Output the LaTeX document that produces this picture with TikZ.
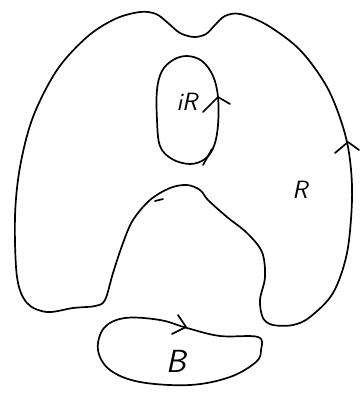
\documentclass[tikz,border=0pt]{standalone}
\begin{document}
\begin{tikzpicture}[x=1pt,y=-1pt,
  pen/.style={line width=1.7pt,line cap=round,line join=round},
  lbl/.style={font=\fontsize{25}{25}\selectfont\sffamily\itshape}]
\useasboundingbox (0,0) rectangle (363,394);
% outer region
\draw[pen] plot[smooth cycle,tension=0.55] coordinates {
 (140,12) (156,14) (168,23) (180,33) (194,37) (206,34) (215,25) (225,16) (240,14)
 (267,25) (300,50) (327,87) (343,127) (350,160) (352,200) (347,253)
 (333,293) (310,317) (293,325) (273,325) (263,318) (260,300) (265,277)
 (262,252) (247,233) (227,217) (208,200) (200,190) (187,185) (170,188)
 (150,200) (133,220) (123,243) (113,273) (105,300) (95,306) (73,308)
 (47,312) (27,303) (17,277) (15,217) (20,167) (33,117) (57,70) (87,37)
 (115,19)};
% inner oval
\draw[pen] plot[smooth cycle,tension=0.6] coordinates {
 (187,56) (202,61) (213,76) (218,97) (218,125) (214,146) (205,159)
 (190,164) (172,159) (160,146) (157,120) (157,90) (162,71) (173,60)};
\draw[pen] (203,165) -- (212,149);
% bottom B region
\draw[pen] plot[smooth cycle,tension=0.6] coordinates {
 (98,350) (104,328) (125,318) (160,320) (187,328) (220,336) (258,337)
 (261,350) (256,362) (230,377) (190,385) (140,382) (110,370)};
% arrow chevrons
\draw[pen] (335,153) -- (348,142) -- (359,150);
\draw[pen] (203,112) -- (218,97) -- (230,104);
\draw[pen] (178,315) -- (186,327) -- (172,334);
\draw[pen] (155,201) -- (163,199);
% labels
\node[lbl] (iR) at (187,102) {iR};
\node[lbl] (R) at (300,190) {R};
\node[lbl,font=\fontsize{32}{32}\selectfont\sffamily\itshape] (B) at (176,361) {B};
\end{tikzpicture}
\end{document}
